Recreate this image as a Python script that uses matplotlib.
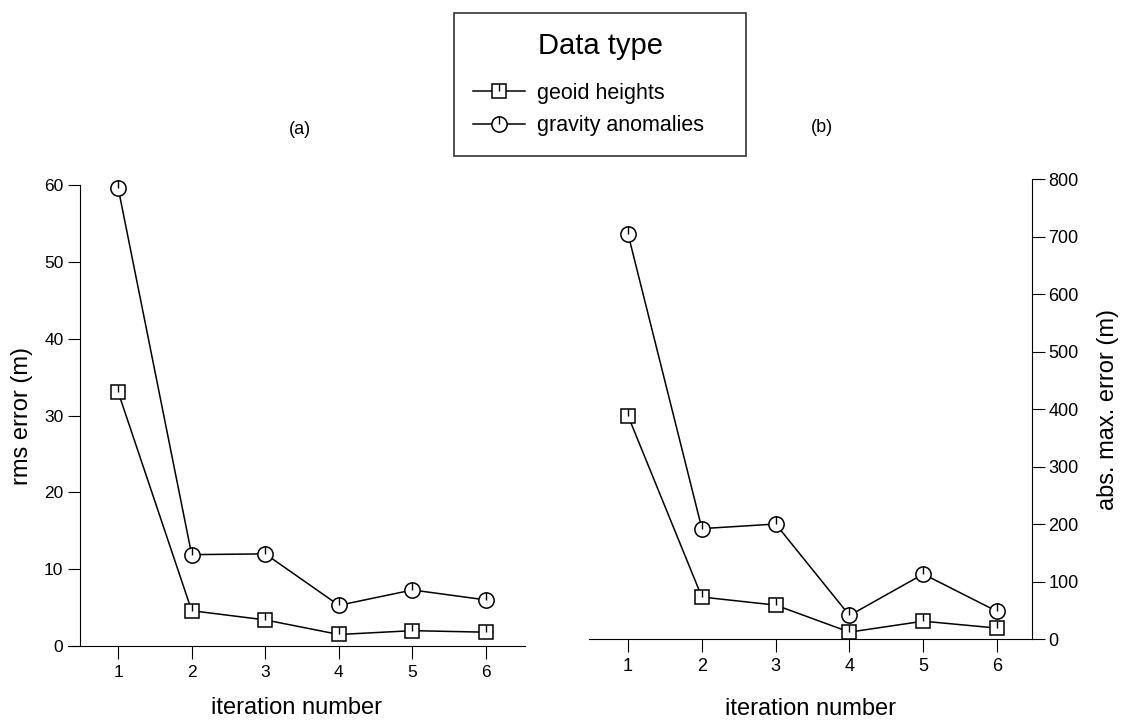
import matplotlib.pyplot as plt
from matplotlib.legend_handler import HandlerTuple

plt.rcParams['font.family'] = ['Liberation Sans', 'DejaVu Sans']

# data
iterations = [1, 2, 3, 4, 5, 6]
rms_geoid = [33.1, 4.6, 3.4, 1.5, 2.0, 1.8]
rms_gravity = [59.7, 11.9, 12.0, 5.3, 7.3, 6.0]
max_geoid = [388, 73, 59, 12, 31, 19]
max_gravity = [704, 192, 200, 41, 113, 48]

# half-line tick drawn inside each marker (as in the scanned figure)
half_tick = [(0, 0), (0, 1)]

fig = plt.figure(figsize=(11.21, 7.21), dpi=100)


def draw(ax, y, marker, ms, label=None):
    line, = ax.plot(iterations, y, marker=marker, color='k', lw=1.1,
                    markersize=ms, markerfacecolor='white', markeredgewidth=1.1,
                    label=label, clip_on=False)
    tick, = ax.plot(iterations, y, ls='none', marker=half_tick, color='k',
                    markersize=ms, markeredgewidth=1.0, clip_on=False)
    return line, tick


# (a) rms error
ax1 = fig.add_axes([0.0607, 0.104, 0.4077, 0.639])
l1, t1 = draw(ax1, rms_geoid, 's', 9.5, 'geoid heights')
l2, t2 = draw(ax1, rms_gravity, 'o', 11, 'gravity anomalies')
ax1.set_xlim(0.32, 6.53)
ax1.set_ylim(0, 60)
ax1.set_xticks(iterations)
ax1.set_yticks(range(0, 61, 10))
ax1.spines['top'].set_visible(False)
ax1.spines['right'].set_visible(False)
ax1.spines['left'].set_position(('data', 0.484))
ax1.set_ylabel('rms error (m)', fontsize=17, labelpad=8)
ax1.set_xlabel('iteration number', fontsize=17, labelpad=12)
ax1.tick_params(direction='out', length=9, labelsize=12.5, pad=3)
ax1.tick_params(axis='x', pad=5)

# (b) abs. max. error
ax2 = fig.add_axes([0.5254, 0.1137, 0.395, 0.638])
draw(ax2, max_geoid, 's', 9.5)
draw(ax2, max_gravity, 'o', 11)
ax2.set_xlim(0.47, 6.47)
ax2.set_ylim(0, 800)
ax2.set_xticks(iterations)
ax2.set_yticks(range(0, 801, 100))
ax2.spines['top'].set_visible(False)
ax2.spines['left'].set_visible(False)
ax2.yaxis.tick_right()
ax2.yaxis.set_label_position('right')
ax2.set_ylabel('abs. max. error (m)', fontsize=17, labelpad=13)
ax2.set_xlabel('iteration number', fontsize=17, labelpad=16)
ax2.tick_params(direction='out', length=9, labelsize=13, pad=3)
ax2.tick_params(axis='x', pad=5)

# panel titles
fig.text(0.2676, 0.8197, '(a)', fontsize=13, ha='center', va='center')
fig.text(0.7333, 0.8225, '(b)', fontsize=13, ha='center', va='center')

# shared legend
leg = fig.legend(handles=[(l1, t1), (l2, t2)], labels=['geoid heights', 'gravity anomalies'],
                 handler_map={tuple: HandlerTuple(ndivide=1, pad=0)},
                 loc='upper left', mode='expand',
                 bbox_to_anchor=(454 / 1121, 1 - 151 / 721, 292 / 1121, 138 / 721),
                 title='Data type', title_fontsize=21, fontsize=15.5,
                 frameon=True, fancybox=False, edgecolor='k', handlelength=2.4,
                 handletextpad=0.55, borderpad=0.9, labelspacing=0.55,
                 borderaxespad=0)
leg.get_frame().set_linewidth(1.2)
leg._legend_box.sep = 16

fig.savefig('out.png', dpi=100)
